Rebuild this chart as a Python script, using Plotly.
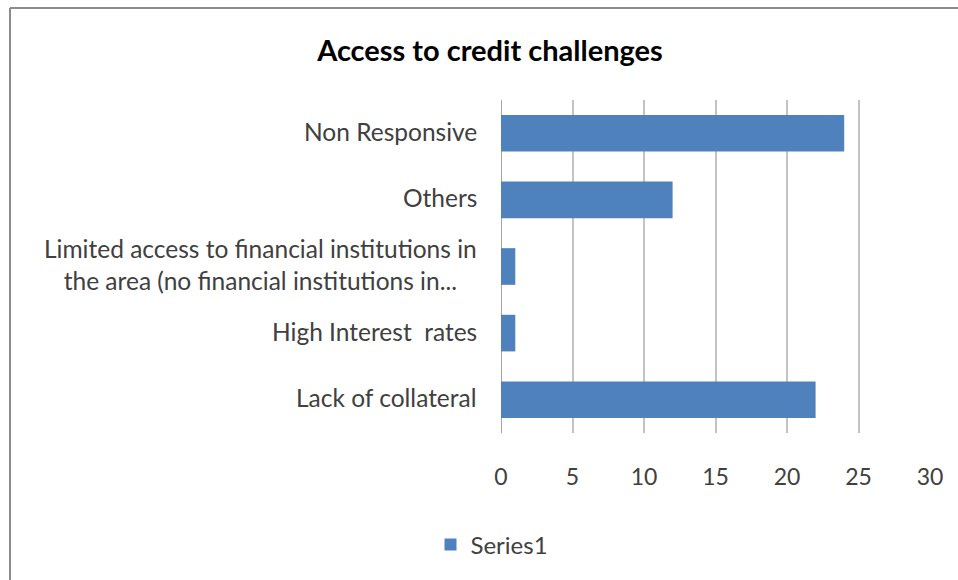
import plotly.graph_objects as go

# Survey responses: access to credit challenges
categories = [
    "Lack of collateral",
    "High Interest  rates",
    "Limited access to financial institutions in<br>the area (no financial institutions in...",
    "Others",
    "Non Responsive",
]
values = [22, 1, 1, 12, 24]
series_name = "Series1"
x_ticks = [0, 5, 10, 15, 20, 25, 30]

W, H = 958, 580
L, R, T, B = 501, 28, 100, 147
FONT = "Lato, Carlito, Calibri, sans-serif"
BAR = "#4F81BD"
TXT = "#404040"

fig = go.Figure()
fig.add_trace(go.Bar(
    y=categories,
    x=values,
    orientation="h",
    name=series_name,
    marker=dict(color=BAR, line=dict(width=0)),
    width=0.55,
    showlegend=True,
))

# category labels, centred line-by-line like wrapped spreadsheet labels
for cat in categories:
    fig.add_annotation(
        x=0, y=cat, xref="x", yref="y",
        text=cat, showarrow=False,
        xanchor="right", yanchor="middle", align="center",
        xshift=-22, yshift=2,
        font=dict(family=FONT, size=24.5, color=TXT),
    )

# outer chart frame (left and top edges visible in the window)
pw, ph = W - L - R, H - T - B
def px_to_paper_x(px):
    return (px - L) / pw
def px_to_paper_y(py):
    return (H - B - py) / ph

frame = [
    dict(type="line", xref="paper", yref="paper",
         x0=px_to_paper_x(10), x1=px_to_paper_x(W + 5),
         y0=px_to_paper_y(8), y1=px_to_paper_y(8),
         line=dict(color="#8c8c8c", width=2)),
    dict(type="line", xref="paper", yref="paper",
         x0=px_to_paper_x(10), x1=px_to_paper_x(10),
         y0=px_to_paper_y(8), y1=px_to_paper_y(H + 5),
         line=dict(color="#8c8c8c", width=2)),
    # vertical category axis line at x = 0
    dict(type="line", xref="x", yref="paper", x0=0, x1=0, y0=0, y1=1,
         line=dict(color="#a6a6a6", width=2), layer="below"),
]

fig.update_layout(
    width=W, height=H,
    margin=dict(l=L, r=R, t=T, b=B, pad=0),
    paper_bgcolor="white",
    plot_bgcolor="white",
    title=dict(
        text="<b>Access to credit challenges</b>",
        x=490 / W, xref="container", xanchor="center",
        y=1 - 51 / H, yref="container", yanchor="middle",
        font=dict(family=FONT, size=29, color="#000000"),
    ),
    xaxis=dict(
        range=[0, 30],
        tickvals=x_ticks,
        ticktext=[str(v) for v in x_ticks],
        showgrid=True,
        gridcolor="#c3c3c3",
        gridwidth=2,
        zeroline=False,
        showline=False,
        ticks="",
        ticklabelstandoff=28,
        tickfont=dict(family=FONT, size=23, color=TXT),
        fixedrange=True,
    ),
    yaxis=dict(
        categoryorder="array",
        categoryarray=categories,
        range=[-0.5, 4.5],
        showticklabels=False,
        showgrid=False,
        zeroline=False,
        showline=False,
        ticks="",
        fixedrange=True,
    ),
    shapes=frame,
    legend=dict(
        orientation="h",
        x=492 / W, xref="container", xanchor="center",
        y=1 - 545 / H, yref="container", yanchor="middle",
        font=dict(family=FONT, size=24, color=TXT),
        itemwidth=30,
    ),
    bargap=0.45,
)

fig.write_html("out.html")
